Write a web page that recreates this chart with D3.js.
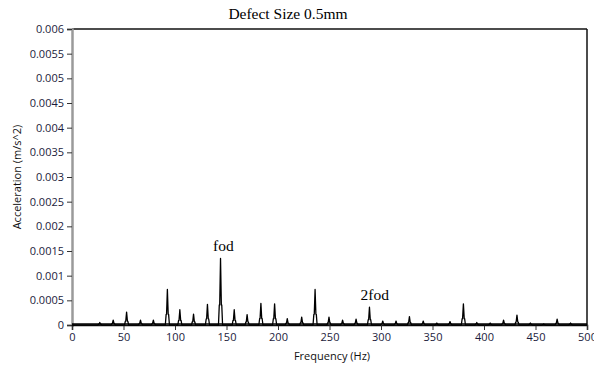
<!DOCTYPE html>
<html>
<head>
<meta charset="UTF-8">
<script src="https://d3js.org/d3.v7.min.js"></script>
<style>
  body { margin: 0; background: #fff; }
  svg { display: block; }
  .tick text { font-family: "Open Sans", sans-serif; font-size: 11px; fill: #1c1c3c; }
</style>
</head>
<body>
<svg id="chart" width="594" height="367"></svg>
<script>
// peak positions (Hz) and amplitudes (m/s^2)
const peakFreq = [27, 40, 53, 66.5, 79, 92.6, 104.7, 118, 131.5, 144.2, 157.5, 170, 183.4, 196.7, 209,
  223, 236, 249.5, 262.7, 275.8, 288.8, 301.7, 314.6, 327.6, 341, 354.2, 367, 380, 393, 406, 419, 432, 445, 458, 471, 484];
const peakAmp = [0.00005, 0.0001, 0.00026, 0.0001, 0.0001, 0.00072, 0.00031, 0.00022, 0.00042, 0.00135, 0.00031, 0.00021, 0.00044, 0.00043, 0.00013,
  0.00016, 0.00072, 0.00016, 0.0001, 0.00012, 0.00036, 0.00008, 0.00008, 0.00017, 0.00008, 0.00004, 0.00007, 0.00043, 0.00005, 0.00004, 0.0001, 0.0002, 0.00004, 0.00002, 0.00012, 0.00004];
const yTicks = [0, 0.0005, 0.001, 0.0015, 0.002, 0.0025, 0.003, 0.0035, 0.004, 0.0045, 0.005, 0.0055, 0.006];
const xTicks = [0, 50, 100, 150, 200, 250, 300, 350, 400, 450, 500];
const notes = [{ label: "fod", f: 147, v: 0.0015 }, { label: "2fod", f: 294, v: 0.00051 }];

const svg = d3.select("#chart");
const pLeft = 72, pRight = 587, pTop = 29, pBottom = 325;

const x = d3.scaleLinear().domain([0, 500]).range([pLeft, pRight]);
const y = d3.scaleLinear().domain([0, 0.006]).range([pBottom, pTop]);

// title
svg.append("text")
  .attr("x", 288).attr("y", 19)
  .attr("text-anchor", "middle")
  .style("font-family", "'Liberation Serif', serif")
  .style("font-size", "15.5px")
  .text("Defect Size 0.5mm");

// frame: top and right black
svg.append("line").attr("x1", pLeft).attr("x2", pRight).attr("y1", pTop).attr("y2", pTop)
  .attr("stroke", "#111").attr("stroke-width", 1.5);
svg.append("line").attr("x1", pRight).attr("x2", pRight).attr("y1", pTop).attr("y2", pBottom)
  .attr("stroke", "#111").attr("stroke-width", 1.5);

// y axis
const yAxis = svg.append("g")
  .attr("transform", `translate(${pLeft},0)`)
  .call(d3.axisLeft(y).tickValues(yTicks).tickFormat(d => d === 0 ? "0" : String(+d.toFixed(4))).tickSize(5).tickPadding(3));
yAxis.select(".domain").attr("stroke", "#9a9a9a").attr("stroke-width", 2.5);
yAxis.selectAll(".tick line").attr("stroke", "#333");

// x axis
const xAxis = svg.append("g")
  .attr("transform", `translate(0,${pBottom})`)
  .call(d3.axisBottom(x).tickValues(xTicks).tickSize(5).tickPadding(3));
xAxis.select(".domain").attr("stroke", "#111").attr("stroke-width", 1.5);
xAxis.selectAll(".tick line").attr("stroke", "#333");

// axis labels
svg.append("text")
  .attr("x", 332).attr("y", 360)
  .attr("text-anchor", "middle")
  .style("font-family", "'Open Sans', sans-serif")
  .style("font-size", "11px")
  .attr("fill", "#111")
  .text("Frequency (Hz)");

svg.append("text")
  .attr("transform", `translate(21,${(pTop + pBottom) / 2}) rotate(-90)`)
  .attr("text-anchor", "middle")
  .style("font-family", "'Open Sans', sans-serif")
  .style("font-size", "11px")
  .attr("fill", "#111")
  .text("Acceleration (m/s^2)");

// spectrum: baseline with narrow peaks
const pts = [[0, 0]];
peakFreq.forEach((f, i) => {
  const a = peakAmp[i];
  pts.push([f - 2, 0], [f - 1.2, a * 0.3], [f - 0.8, a * 0.3], [f, a], [f + 0.8, a * 0.3], [f + 1.2, a * 0.3], [f + 2, 0]);
});
pts.push([500, 0]);

const line = d3.line().x(d => x(d[0])).y(d => y(d[1]));
svg.append("path")
  .datum(pts)
  .attr("d", line)
  .attr("fill", "none")
  .attr("stroke", "#000")
  .attr("stroke-width", 1.3)
  .attr("stroke-linejoin", "round");

svg.append("line")
  .attr("x1", x(0)).attr("x2", x(500)).attr("y1", y(0) - 1).attr("y2", y(0) - 1)
  .attr("stroke", "#000").attr("stroke-width", 1.5);

// annotations
svg.selectAll(".note")
  .data(notes)
  .enter().append("text")
  .attr("class", "note")
  .attr("x", d => x(d.f))
  .attr("y", d => y(d.v))
  .attr("text-anchor", "middle")
  .style("font-family", "'Liberation Serif', serif")
  .style("font-size", "15.5px")
  .text(d => d.label);
</script>
</body>
</html>
